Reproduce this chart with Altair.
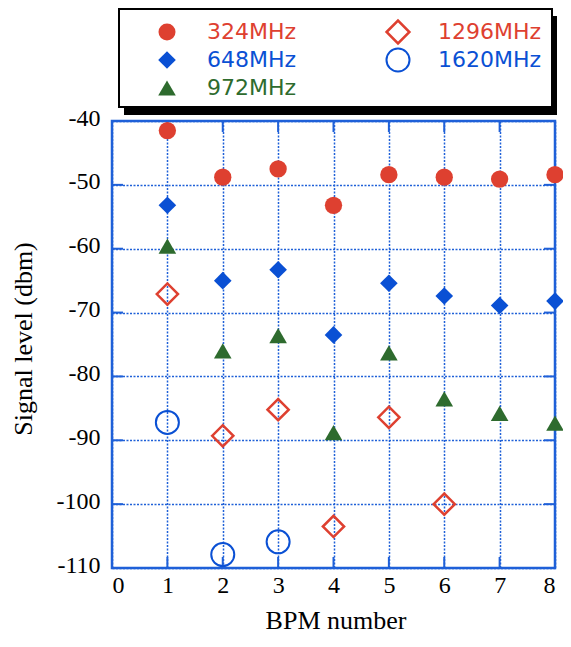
import altair as alt
import pandas as pd

# ---- data ----
bpm = [1, 2, 3, 4, 5, 6, 7, 8]
level_324 = [-41.5, -48.8, -47.5, -53.2, -48.4, -48.8, -49.1, -48.4]
level_648 = [-53.2, -65.0, -63.3, -73.5, -65.4, -67.4, -68.9, -68.2]
level_972 = [-59.6, -76.0, -73.6, -88.8, -76.3, -83.5, -85.8, -87.3]
bpm_1296 = [1, 2, 3, 4, 5, 6]
level_1296 = [-67.1, -89.3, -85.2, -103.5, -86.4, -100.0]
bpm_1620 = [1, 2, 3]
level_1620 = [-87.2, -107.9, -105.9]

x_ticks = [0, 1, 2, 3, 4, 5, 6, 7, 8]
y_ticks = [-110, -100, -90, -80, -70, -60, -50, -40]
series_names = ["324MHz", "648MHz", "972MHz", "1296MHz", "1620MHz"]

RED = "#de4030"
BLUE = "#0a50d4"
GREEN = "#2e6b2e"
GRID = "#1f60d8"

W, H = 443, 447
SERIF = "Liberation Serif"
SANS = "DejaVu Sans"

x_axis = alt.Axis(
    values=x_ticks, title="BPM number", grid=True, gridColor=GRID, gridDash=[2, 1.5],
    gridWidth=1.5, gridOpacity=1, domain=False, ticks=False, labelFont=SERIF,
    labelFontSize=24, labelColor="black", labelPadding=5, titleFont=SERIF,
    titleFontSize=26, titleFontWeight="normal", titleColor="black",
    titleX=W / 2 + 2, titleY=60, titleBaseline="alphabetic", titleAlign="center",
)
y_axis = alt.Axis(
    values=y_ticks, title="Signal level (dbm)", grid=True, gridColor=GRID, gridDash=[2, 1.5],
    gridWidth=1.5, gridOpacity=1, domain=False, ticks=False, labelFont=SERIF,
    labelFontSize=24, labelColor="black", labelPadding=12, labelOffset=-3,
    labelExpr="datum.value < 0 ? '-' + abs(datum.value) : '' + datum.value",
    titleFont=SERIF, titleFontSize=26, titleFontWeight="normal", titleColor="black",
    titleAngle=270, titleX=-81, titleY=H / 2 - 6, titleBaseline="alphabetic", titleAlign="center",
)
x_scale = alt.Scale(domain=[0, 8], nice=False, zero=False)
y_scale = alt.Scale(domain=[-110, -40], nice=False, zero=False)


def xe(field):
    return alt.X(f"{field}:Q", scale=x_scale, axis=x_axis)


def ye(field):
    return alt.Y(f"{field}:Q", scale=y_scale, axis=y_axis)


one = pd.DataFrame({"k": [0]})
layers = []

# legend box with shadow (decoration)
layers.append(alt.Chart(one).mark_rect(color="black").encode(
    x=alt.value(12), x2=alt.value(445), y=alt.value(-105), y2=alt.value(-6)))
layers.append(alt.Chart(one).mark_rect(fill="white", stroke="black", strokeWidth=2).encode(
    x=alt.value(7), x2=alt.value(440), y=alt.value(-112), y2=alt.value(-14)))

# inward ticks on all four sides
xt = pd.DataFrame({"v": x_ticks[1:-1]})
yt = pd.DataFrame({"v": y_ticks[1:-1]})
layers.append(alt.Chart(xt).mark_rule(color=GRID, strokeWidth=2).encode(
    x=xe("v"), y=alt.value(H), y2=alt.value(H - 11)))
layers.append(alt.Chart(xt).mark_rule(color=GRID, strokeWidth=2).encode(
    x=xe("v"), y=alt.value(0), y2=alt.value(11)))
layers.append(alt.Chart(yt).mark_rule(color=GRID, strokeWidth=2).encode(
    y=ye("v"), x=alt.value(0), x2=alt.value(11)))
layers.append(alt.Chart(yt).mark_rule(color=GRID, strokeWidth=2).encode(
    y=ye("v"), x=alt.value(W), x2=alt.value(W - 11)))

specs = [
    # name, xs, ys, shape, color, filled, size, strokeWidth, legend col, row, legend size
    ("324MHz", bpm, level_324, "circle", RED, True, 300, 1, 0, 0, 290),
    ("648MHz", bpm, level_648, "diamond", BLUE, True, 310, 1, 0, 1, 310),
    ("972MHz", bpm, level_972, "triangle-up", GREEN, True, 310, 1, 0, 2, 310),
    ("1296MHz", bpm_1296, level_1296, "diamond", RED, False, 450, 2.5, 1, 0, 520),
    ("1620MHz", bpm_1620, level_1620, "circle", BLUE, False, 530, 2, 1, 1, 530),
]

sym_x = [55, 286]
txt_x = [95, 326]
row_y = [-89, -61, -33]

for name, xs, ys, shape, color, filled, size, sw, col, row, lsize in specs:
    df = pd.DataFrame({"BPM": xs, "level": ys, "series": name})
    mark_kw = dict(shape=shape, filled=filled, size=size, opacity=1, color=color)
    if not filled:
        mark_kw["strokeWidth"] = sw
    layers.append(alt.Chart(df).mark_point(**mark_kw).encode(x=xe("BPM"), y=ye("level")))
    lk = dict(mark_kw)
    lk["size"] = lsize
    layers.append(alt.Chart(one).mark_point(**lk).encode(
        x=alt.value(sym_x[col]), y=alt.value(row_y[row])))
    layers.append(alt.Chart(one).mark_text(
        text=name, align="left", baseline="middle", font=SANS, fontSize=22, color=color
    ).encode(x=alt.value(txt_x[col]), y=alt.value(row_y[row])))

chart = alt.layer(*layers).properties(
    width=W, height=H,
    autosize=alt.AutoSizeParams(type="none"),
    padding={"left": 104, "top": 113, "right": 8, "bottom": 67},
).configure_view(stroke=GRID, strokeWidth=2.5)

chart.save("out.html", embed_options={"renderer": "svg", "actions": False})
